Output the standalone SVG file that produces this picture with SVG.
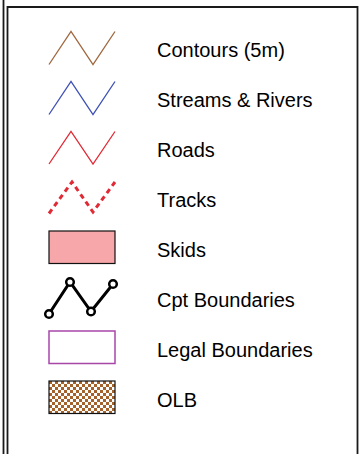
<svg xmlns="http://www.w3.org/2000/svg" width="361" height="454" viewBox="0 0 361 454">
<style>
.lbl{font-family:"Liberation Sans",Arial,sans-serif;font-size:20px;fill:#000}
.zz{fill:none;stroke-width:1.3;stroke-linejoin:miter}
</style>
<defs>
<pattern id="chk" x="49" y="381" width="6" height="6" patternUnits="userSpaceOnUse">
<rect width="6" height="6" fill="#fff"/>
<rect width="3" height="3" fill="#a5622b"/>
<rect x="3" y="3" width="3" height="3" fill="#a5622b"/>
</pattern>
</defs>
<rect width="361" height="454" fill="#fff"/>
<g id="frame" fill="none" stroke="#1a1a1a" stroke-width="1.8">
<line x1="3.5" y1="0" x2="3.5" y2="454"/>
<polyline points="7.5,454 7.5,7 357.5,7 357.5,454"/>
</g>
<g id="contours"><polyline class="zz" stroke="#a0663c" points="49,64.5 71,31.5 93,64.5 115,31.5"/><text class="lbl" x="157" y="57">Contours (5m)</text></g>
<g id="streams"><polyline class="zz" stroke="#3c4fb8" points="49,114.5 71,81.5 93,114.5 115,81.5"/><text class="lbl" x="157" y="107">Streams &amp; Rivers</text></g>
<g id="roads"><polyline class="zz" stroke="#e02a36" points="49,164 71,131.5 93,164 115,131.5"/><text class="lbl" x="157" y="157">Roads</text></g>
<g id="tracks"><polyline fill="none" stroke="#e02a36" stroke-width="3" stroke-dasharray="5,4" points="49,213.5 72,182 93,212 115,182"/><text class="lbl" x="157" y="207">Tracks</text></g>
<g id="skids"><rect x="49" y="231" width="66" height="32.5" fill="#f7a6a9" stroke="#111" stroke-width="1.2"/><text class="lbl" x="157" y="257">Skids</text></g>
<g id="cpt"><polyline fill="none" stroke="#000" stroke-width="3" points="49,314 70,282 91,311.5 113,284"/>
<g fill="#fff" stroke="#000" stroke-width="2.5"><circle cx="49" cy="314" r="3.8"/><circle cx="70" cy="282" r="3.8"/><circle cx="91" cy="311.5" r="3.8"/><circle cx="113" cy="284" r="3.8"/></g>
<text class="lbl" x="157" y="307">Cpt Boundaries</text></g>
<g id="legal"><rect x="49" y="331" width="66" height="32.5" fill="#fff" stroke="#a846a8" stroke-width="1.5"/><text class="lbl" x="157" y="357">Legal Boundaries</text></g>
<g id="olb"><rect x="49" y="381" width="66" height="32.5" fill="url(#chk)" stroke="#111" stroke-width="1.2"/><text class="lbl" x="157" y="407">OLB</text></g>
</svg>
